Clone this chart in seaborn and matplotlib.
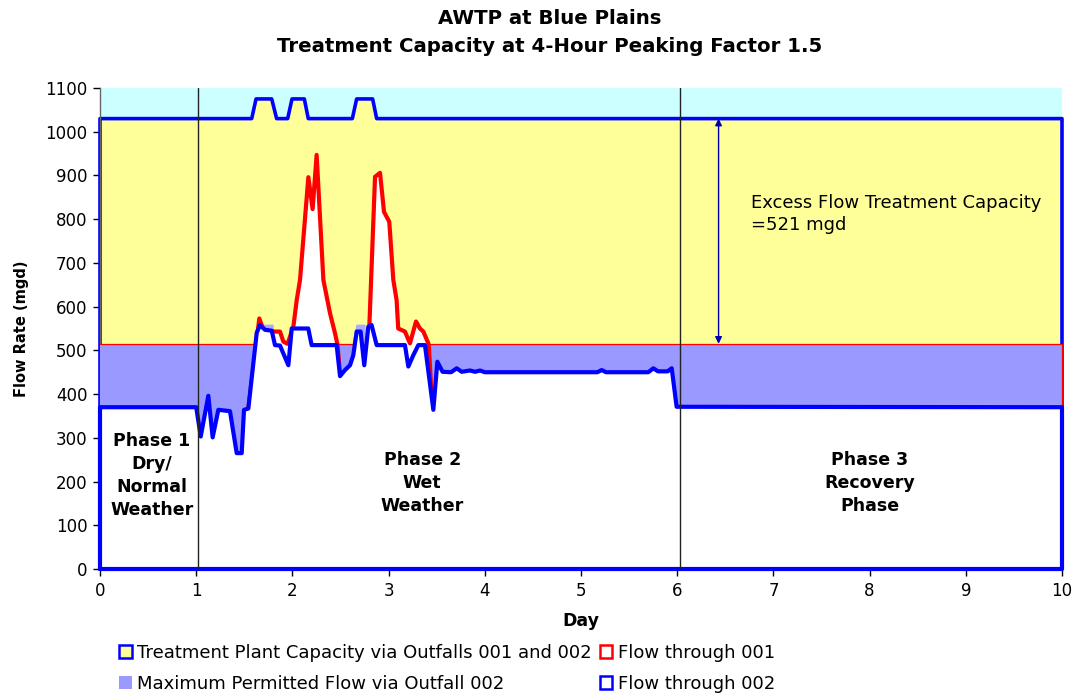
import matplotlib
matplotlib.use("Agg")
import matplotlib.pyplot as plt
from matplotlib.patches import Patch
import seaborn as sns
import pandas as pd

# ---------------- data ----------------
cap_days = [0, 0, 1.577, 1.622, 1.785, 1.836, 1.951, 1.996, 2.124, 2.165,
            2.623, 2.668, 2.834, 2.876, 10, 10]
cap_vals = [0, 1030, 1030, 1075, 1075, 1030, 1030, 1075, 1075, 1030,
            1030, 1075, 1075, 1030, 1030, 0]

permit_level = 515
bump_days = [1.594, 1.63, 1.80, 1.81, 2.62, 2.66, 2.755, 2.76]
bump_vals = [515, 560, 560, 515, 515, 560, 560, 515]

f001_days = [1.542, 1.656, 1.69, 1.72, 1.819, 1.871, 1.906, 1.95, 2.01, 2.045,
             2.079, 2.166, 2.21, 2.252, 2.322, 2.391, 2.443, 2.47, 2.495, 2.75,
             2.80, 2.859, 2.911, 2.952, 3.007, 3.049, 3.083, 3.10, 3.17, 3.222,
             3.285, 3.326, 3.361, 3.413, 3.42, 3.45]
f001_vals = [367, 573, 552, 545, 543, 543, 520, 515, 554, 615,
             661, 896, 823, 947, 661, 585, 539, 512, 441, 466,
             556, 897, 906, 817, 794, 661, 615, 550, 543, 516,
             566, 550, 543, 516, 505, 380]

f002_days = [0, 0, 1.0, 1.047, 1.126, 1.171, 1.23, 1.351, 1.421, 1.473,
             1.497, 1.542, 1.629, 1.663, 1.715, 1.785, 1.819, 1.871, 1.958, 1.993,
             2.165, 2.2, 2.46, 2.495, 2.547, 2.599, 2.633, 2.668, 2.709, 2.747,
             2.789, 2.823, 2.876, 3.17, 3.205, 3.257, 3.309, 3.378, 3.465, 3.507,
             3.561, 3.65, 3.708, 3.76, 3.846, 3.9, 3.95, 4.0, 5.17, 5.215,
             5.26, 5.70, 5.752, 5.80, 5.90, 5.943, 5.994, 10, 10]
f002_vals = [0, 370, 370, 303, 396, 301, 364, 361, 265, 265,
             364, 367, 540, 558, 547, 545, 512, 511, 466, 550,
             550, 512, 512, 441, 455, 466, 489, 543, 543, 466,
             554, 558, 512, 512, 463, 489, 512, 512, 364, 474,
             451, 450, 459, 451, 454, 451, 454, 450, 450, 455,
             450, 450, 459, 452, 452, 459, 371, 370, 0]

phase_bounds = [1.02, 6.03]
excess_label = "Excess Flow Treatment Capacity\n=521 mgd"
phase_labels = ["Phase 1\nDry/\nNormal\nWeather", "Phase 2\nWet\nWeather",
                "Phase 3\nRecovery\nPhase"]
phase_label_x = [0.54, 3.35, 8.0]
phase_label_y = [213, 197, 197]
title_lines = ["AWTP at Blue Plains",
               "Treatment Capacity at 4-Hour Peaking Factor 1.5"]
legend_labels = ["Treatment Plant Capacity via Outfalls 001 and 002",
                 "Maximum Permitted Flow via Outfall 002",
                 "Flow through 001", "Flow through 002"]

# ---------------- styling ----------------
sns.set_theme(style="white")
plt.rcParams['font.family'] = ['DejaVu Sans']
for k in ['text.color', 'axes.labelcolor', 'xtick.color', 'ytick.color']:
    plt.rcParams[k] = 'black'

CYAN = '#CCFFFF'
YELLOW = '#FFFF99'
PURPLE = '#9999FF'
PURPLE_LT = '#AAAAFF'
BLUE = '#0000FF'
RED = '#FF0000'

W, H = 1073, 694
fig = plt.figure(figsize=(W/100, H/100), dpi=100)
ax = fig.add_axes([100/W, 1-569/H, (1062-100)/W, (569-88)/H])
ax.set_facecolor(CYAN)

def closed(d, v):
    return pd.DataFrame({'day': list(d) + [d[0]], 'flow': list(v) + [v[0]]})

# capacity area
ax.fill_between(cap_days, 0, cap_vals, color=YELLOW, lw=0, zorder=1)
sns.lineplot(data=closed(cap_days, cap_vals), x='day', y='flow', sort=False,
             estimator=None, color=BLUE, lw=2.6, ax=ax, legend=False, zorder=2)

# permitted flow area
ax.fill_between([0, 10], 0, [permit_level, permit_level], color=PURPLE, lw=0, zorder=3)
ax.plot([0, 10, 10], [permit_level, permit_level, 0], color=RED, lw=0.9, zorder=3)
ax.fill_between(bump_days, permit_level, bump_vals, color=PURPLE_LT, lw=0, zorder=3)

# flow through 001
ax.fill_between(f001_days, 0, f001_vals, color='white', lw=0, zorder=4)
sns.lineplot(x=f001_days, y=f001_vals, sort=False, estimator=None, color=RED,
             lw=3.0, ax=ax, legend=False, zorder=5)

# flow through 002
ax.fill_between(f002_days, 0, f002_vals, color='white', lw=0, zorder=6)
sns.lineplot(data=closed(f002_days, f002_vals), x='day', y='flow', sort=False,
             estimator=None, color=BLUE, lw=3.0, ax=ax, legend=False, zorder=7)
for ln in ax.lines:
    ln.set_clip_on(False)
    ln.set_solid_joinstyle('round')

# phase boundaries
for b in phase_bounds:
    ax.axvline(b, color='#222222', lw=1.0, zorder=8)

# arrow and annotation
ax.annotate('', xy=(6.43, 1030), xytext=(6.43, 515),
            arrowprops=dict(arrowstyle='<|-|>', color='#0000AA', lw=1.0,
                            mutation_scale=10, shrinkA=0, shrinkB=0), zorder=9)
ax.text(6.77, 812, excess_label, fontsize=13, ha='left', va='center',
        linespacing=1.3, zorder=9)

for lbl, x, y in zip(phase_labels, phase_label_x, phase_label_y):
    ax.text(x, y, lbl, fontsize=12.5, fontweight='bold', ha='center', va='center',
            linespacing=1.36, zorder=9)

ax.set_xlim(0, 10)
ax.set_ylim(0, 1100)
ax.set_xticks(range(0, 11))
ax.set_yticks(range(0, 1101, 100))
ax.tick_params(direction='out', length=5, width=1, left=True, bottom=True,
               labelsize=12, pad=4)
for s in ['top', 'right']:
    ax.spines[s].set_visible(False)
for s in ['left', 'bottom']:
    ax.spines[s].set_color('#666666')
    ax.spines[s].set_linewidth(1)

ax.set_xlabel('Day', fontsize=12.5, fontweight='bold', labelpad=9)
ax.set_ylabel('Flow Rate (mgd)', fontsize=10.5, fontweight='bold', labelpad=12)

fig.text(550/W, 1-18/H, title_lines[0], fontsize=14.2, fontweight='bold',
         ha='center', va='center')
fig.text(550/W, 1-46/H, title_lines[1], fontsize=14.2, fontweight='bold',
         ha='center', va='center')

handles = [Patch(facecolor=YELLOW, edgecolor=BLUE, lw=1.8),
           Patch(facecolor=PURPLE, edgecolor='none'),
           Patch(facecolor='white', edgecolor=RED, lw=1.8),
           Patch(facecolor='white', edgecolor=BLUE, lw=1.8)]
fig.legend(handles, legend_labels, loc='upper left',
           bbox_to_anchor=(119/W, 1-644/H), ncol=2, frameon=False,
           fontsize=13, handlelength=0.7, handleheight=0.7,
           handletextpad=0.3, columnspacing=0.45, labelspacing=0.7,
           borderpad=0, borderaxespad=0)

fig.savefig('out.png', dpi=100)
